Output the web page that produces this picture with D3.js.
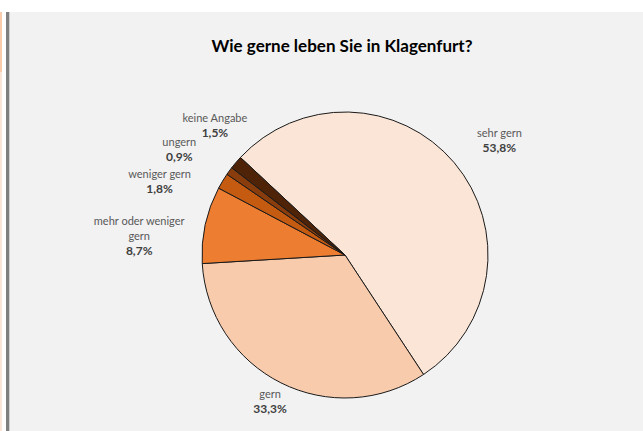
<!DOCTYPE html>
<html>
<head>
<meta charset="utf-8">
<script src="https://cdn.jsdelivr.net/npm/d3@7"></script>
<style>
  body { margin: 0; background: #ffffff; }
  svg { display: block; }
  .title { font-family: Lato, "Open Sans", sans-serif; font-weight: bold; font-size: 17px; fill: #000000; }
  .lbl-name { font-family: Lato, "Open Sans", sans-serif; font-size: 11px; fill: #595959; }
  .lbl-pct { font-family: Lato, "Open Sans", sans-serif; font-size: 12px; font-weight: bold; fill: #404040; }
</style>
</head>
<body>
<div id="chart-div"></div>
<script>
var categories = ["sehr gern", "gern", "mehr oder weniger gern", "weniger gern", "ungern", "keine Angabe"];
var values = [53.8, 33.3, 8.7, 1.8, 0.9, 1.5];
var pctLabels = ["53,8%", "33,3%", "8,7%", "1,8%", "0,9%", "1,5%"];
var nameLines = [["sehr gern"], ["gern"], ["mehr oder weniger", "gern"], ["weniger gern"], ["ungern"], ["keine Angabe"]];
var colors = ["#fbe5d6", "#f8cbad", "#ed7d31", "#c55a11", "#8a3d0c", "#4f2307"];

var fn = {};
var vars = {
  width: 643,
  height: 431,
  cx: 345,
  cy: 255,
  radius: 143,
  startAngle: -47 * Math.PI / 180,
  labelRadius: 185,
  lineHeight: 15
};

// nudges applied to the label anchor (Excel moves crowded labels around)
vars.labelNudge = [[13, 5], [8, -19], [-25, 20], [-27, 22], [-16, 3], [11, -10]];

fn.main = function() {
  var svg = d3.select("#chart-div").append("svg")
    .attr("width", vars.width)
    .attr("height", vars.height);

  // frame pieces from the screenshot
  svg.append("rect").attr("x", 0).attr("y", 12).attr("width", 2).attr("height", 60).attr("fill", "#f8cbad");
  svg.append("rect").attr("x", 0).attr("y", 72).attr("width", 2).attr("height", vars.height - 72).attr("fill", "#fbe5d6");
  svg.append("rect").attr("x", 9).attr("y", 12).attr("width", vars.width - 9).attr("height", vars.height - 12).attr("fill", "#f2f2f2");
  svg.append("rect").attr("x", 6).attr("y", 12).attr("width", 3).attr("height", vars.height - 12).attr("fill", "#7f7f7f");
  svg.append("rect").attr("x", 9).attr("y", 12).attr("width", 1).attr("height", vars.height - 12).attr("fill", "#d0d0d0");

  svg.append("text")
    .attr("class", "title")
    .attr("x", 342)
    .attr("y", 52)
    .attr("text-anchor", "middle")
    .text("Wie gerne leben Sie in Klagenfurt?");

  var data = categories.map(function(c, i) {
    return { name: c, value: values[i], pct: pctLabels[i], lines: nameLines[i], color: colors[i], i: i };
  });

  var pie = d3.pie()
    .sort(null)
    .value(function(d) { return d.value; })
    .startAngle(vars.startAngle)
    .endAngle(vars.startAngle + 2 * Math.PI);

  var arc = d3.arc().innerRadius(0).outerRadius(vars.radius);
  var labelArc = d3.arc().innerRadius(vars.labelRadius).outerRadius(vars.labelRadius);

  var g = svg.append("g")
    .attr("transform", "translate(" + vars.cx + "," + vars.cy + ")");

  var arcs = pie(data);

  g.selectAll("path.slice")
    .data(arcs)
    .enter().append("path")
    .attr("class", "slice")
    .attr("d", arc)
    .attr("fill", function(d) { return d.data.color; })
    .attr("stroke", "#1a1a1a")
    .attr("stroke-width", 1)
    .attr("stroke-linejoin", "round");

  var labels = g.selectAll("g.label")
    .data(arcs)
    .enter().append("g")
    .attr("class", "label")
    .attr("transform", function(d) {
      var c = labelArc.centroid(d);
      var n = vars.labelNudge[d.data.i];
      return "translate(" + (c[0] + n[0]) + "," + (c[1] + n[1]) + ")";
    });

  labels.each(function(d) {
    var sel = d3.select(this);
    var nLines = d.data.lines.length + 1;
    var top = -(nLines - 1) * vars.lineHeight / 2;
    d.data.lines.forEach(function(line, k) {
      sel.append("text")
        .attr("class", "lbl-name")
        .attr("text-anchor", "middle")
        .attr("x", 0)
        .attr("y", top + k * vars.lineHeight + 4)
        .text(line);
    });
    sel.append("text")
      .attr("class", "lbl-pct")
      .attr("text-anchor", "middle")
      .attr("x", 0)
      .attr("y", top + d.data.lines.length * vars.lineHeight + 4)
      .text(d.data.pct);
  });
};

fn.main();
</script>
</body>
</html>
